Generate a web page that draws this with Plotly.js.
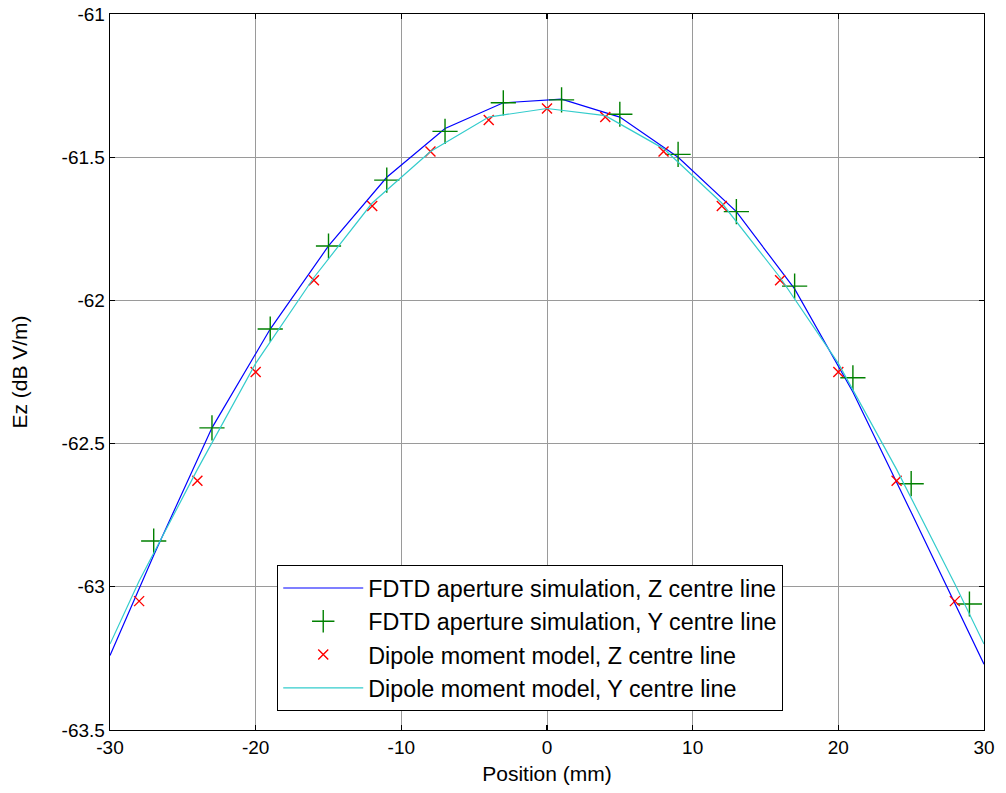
<!DOCTYPE html>
<html>
<head>
<meta charset="utf-8">
<script src="https://cdn.plot.ly/plotly-3.0.1.min.js"></script>
<style>html,body{margin:0;padding:0;background:#fff;}#chart{width:1006px;height:793px;}</style>
</head>
<body>
<div id="chart"></div>
<script>
// FDTD aperture simulation, Z centre line (solid blue)
const fdtdZ_x = [-30, -27, -23, -19, -15, -11, -7, -3, 1, 5, 9, 13, 17, 21, 25, 29, 30];
const fdtdZ_y = [-63.24, -62.89, -62.445, -62.10, -61.81, -61.57, -61.40, -61.31, -61.297, -61.36, -61.50, -61.69, -61.96, -62.32, -62.74, -63.16, -63.27];

// FDTD aperture simulation, Y centre line (green +)
const fdtdY_x = [-27, -23, -19, -15, -11, -7, -3, 1, 5, 9, 13, 17, 21, 25, 29];
const fdtdY_y = [-62.84, -62.445, -62.10, -61.81, -61.58, -61.41, -61.31, -61.30, -61.35, -61.49, -61.69, -61.95, -62.27, -62.64, -63.06];

// Dipole moment model, Z centre line (red x)
const dipZ_x = [-28, -24, -20, -16, -12, -8, -4, 0, 4, 8, 12, 16, 20, 24, 28];
const dipZ_y = [-63.05, -62.63, -62.25, -61.93, -61.67, -61.48, -61.37, -61.33, -61.36, -61.48, -61.67, -61.93, -62.25, -62.63, -63.05];

// Dipole moment model, Y centre line (cyan)
const dipY_x = [-30, -28, -24, -20, -16, -12, -8, -4, 0, 4, 8, 12, 16, 20, 24, 28, 30];
const dipY_y = [-63.20, -62.98, -62.59, -62.22, -61.92, -61.66, -61.48, -61.36, -61.33, -61.355, -61.47, -61.66, -61.92, -62.22, -62.59, -62.99, -63.20];

const xTicks = [-30, -20, -10, 0, 10, 20, 30];
const xTickText = ["-30", "-20", "-10", "0", "10", "20", "30"];
const yTicks = [-63.5, -63, -62.5, -62, -61.5, -61];
const yTickText = ["-63.5", "-63", "-62.5", "-62", "-61.5", "-61"];

const legendNames = [
  "FDTD aperture simulation, Z centre line",
  "FDTD aperture simulation, Y centre line",
  "Dipole moment model, Z centre line",
  "Dipole moment model, Y centre line"
];

const FONT = "Liberation Sans, Arial, Helvetica, sans-serif";

const traces = [
  {x: fdtdZ_x, y: fdtdZ_y, name: legendNames[0], type: "scatter", mode: "lines",
   line: {color: "#0000ff", width: 1.2}},
  {x: fdtdY_x, y: fdtdY_y, name: legendNames[1], type: "scatter", mode: "markers",
   marker: {symbol: "cross-thin-open", size: 18, color: "#008000", line: {color: "#008000", width: 1.4}}},
  {x: dipZ_x, y: dipZ_y, name: legendNames[2], type: "scatter", mode: "markers",
   marker: {symbol: "x-thin-open", size: 10, color: "#ff0000", line: {color: "#ff0000", width: 1.4}}},
  {x: dipY_x, y: dipY_y, name: legendNames[3], type: "scatter", mode: "lines",
   line: {color: "#33cccc", width: 1.2}}
];

const axisCommon = {
  showgrid: true, gridcolor: "#9a9a9a", gridwidth: 1,
  zeroline: false, showline: true, linecolor: "#000", linewidth: 1.3,
  mirror: "ticks", ticks: "inside", ticklen: 5, tickcolor: "#000", tickwidth: 1.3,
  tickfont: {family: FONT, size: 19, color: "#000"}
};

const layout = {
  width: 1006, height: 793,
  paper_bgcolor: "#fff", plot_bgcolor: "#fff",
  margin: {l: 110, r: 22, t: 14, b: 63},
  showlegend: true,
  xaxis: Object.assign({}, axisCommon, {
    range: [-30, 30], tickmode: "array", tickvals: xTicks, ticktext: xTickText,
    title: {text: "Position (mm)", font: {family: FONT, size: 21, color: "#000"}, standoff: 9}
  }),
  yaxis: Object.assign({}, axisCommon, {
    range: [-63.5, -61], tickmode: "array", tickvals: yTicks, ticktext: yTickText,
    title: {text: "Ez (dB V/m)", font: {family: FONT, size: 21, color: "#000"}, standoff: 28}
  }),
  legend: {
    x: 0.191, y: 0.2304, xanchor: "left", yanchor: "top",
    bgcolor: "#fff", bordercolor: "#000", borderwidth: 1.3,
    font: {family: FONT, size: 23.3, color: "#000"},
    itemwidth: 80, tracegroupgap: 0
  }
};

Plotly.newPlot("chart", traces, layout, {displayModeBar: false, staticPlot: true});
</script>
</body>
</html>
